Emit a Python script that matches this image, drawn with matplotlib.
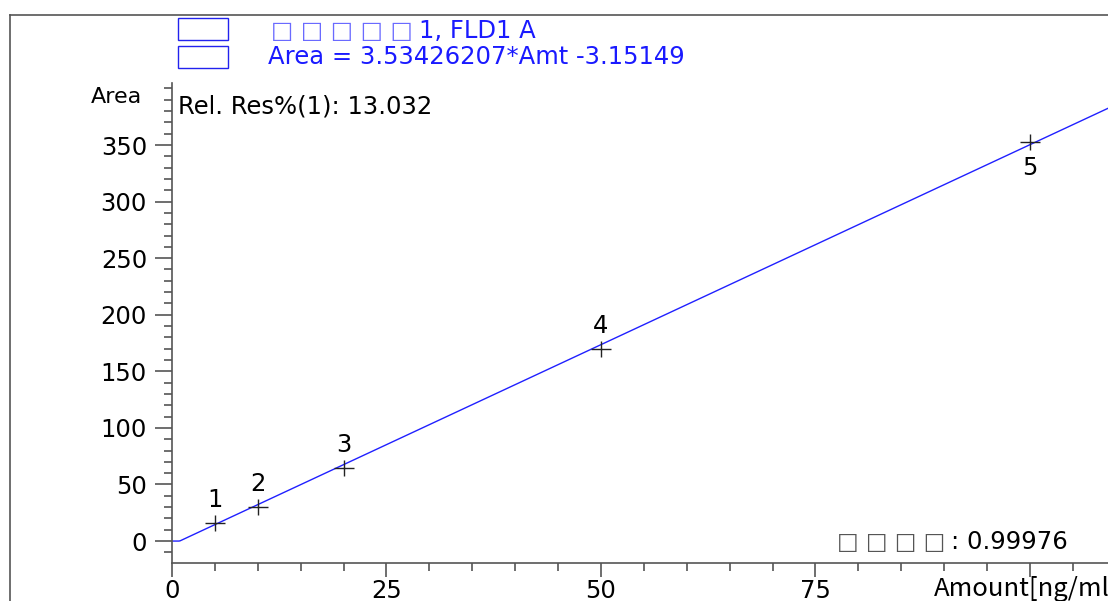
import numpy as np
import matplotlib.pyplot as plt
from matplotlib.lines import Line2D
from matplotlib.patches import Rectangle
from matplotlib.path import Path

# calibration levels and measured peak areas
amounts = [5, 10, 20, 50, 100]
areas = [16.2, 30.4, 64.3, 169.6, 352.5]
level_labels = ["1", "2", "3", "4", "5"]

# linear fit reported by the integrator
SLOPE = 3.53426207
INTERCEPT = -3.15149
REL_RES = "13.032"
CORR = "0.99976"

x_ticks = [0, 25, 50, 75, 100]
x_tick_labels = ["0", "25", "50", "75", ""]
y_ticks = [0, 50, 100, 150, 200, 250, 300, 350]

plt.rcParams["font.family"] = ["DejaVu Sans"]
FS = 17.5

fig = plt.figure(figsize=(11.08, 6.01), dpi=100)
W, H = 1108, 601

def fx(px):
    return px / W

def fy(py):
    return 1 - py / H

ax = fig.add_axes([fx(172), fy(563), fx(W - 172), (563 - 83) / H])
ax.set_xlim(0, 109.1)
ax.set_ylim(-19.4, 404.8)

# fit line, flat at zero where the fit goes negative
x_line = np.linspace(0, 109.1, 800)
y_line = np.maximum(SLOPE * x_line + INTERCEPT, 0)
ax.plot(x_line, y_line, color="#2020ff", lw=1.0)

# slightly wide cross marker
cross = Path([(-1, 0), (1, 0), (0, -0.8), (0, 0.8)],
             [Path.MOVETO, Path.LINETO, Path.MOVETO, Path.LINETO])
ax.plot(amounts, areas, ls="none", marker=cross, ms=14, mew=1.0, color="#222222")
for x, y, lab in zip(amounts, areas, level_labels):
    if lab == "5":
        ax.annotate(lab, (x, y), xytext=(0, -10), textcoords="offset points",
                    ha="center", va="top", fontsize=FS)
    else:
        ax.annotate(lab, (x, y), xytext=(0, 8), textcoords="offset points",
                    ha="center", va="bottom", fontsize=FS)

for side in ("top", "right"):
    ax.spines[side].set_visible(False)
for side in ("left", "bottom"):
    ax.spines[side].set_color("#555555")
    ax.spines[side].set_linewidth(1.2)

ax.set_xticks(x_ticks, x_tick_labels)
ax.set_xticks(np.arange(0, 110, 5), minor=True)
ax.set_yticks(y_ticks)
ax.set_yticks(np.arange(-10, 401, 10), minor=True)
ax.tick_params(which="both", width=1.2, color="#555555", labelsize=FS,
               direction="out")
ax.tick_params(axis="x", which="major", length=10, pad=1.5)
ax.tick_params(axis="x", which="minor", length=5.5)
ax.tick_params(axis="y", which="major", length=12, pad=6)
ax.tick_params(axis="y", which="minor", length=6)

ax.text(0.006, 0.951, f"Rel. Res%(1): {REL_RES}", transform=ax.transAxes,
        fontsize=FS, va="center", ha="left")

# y-axis name and x-axis name
fig.text(fx(91), fy(97), "Area", fontsize=16, va="center", ha="left")
fig.text(fx(934), fy(589), "Amount[ng/ml]", fontsize=18.5, va="center", ha="left",
         family=["Noto Sans CJK JP", "DejaVu Sans"])

# correlation readout
fig.text(fx(837), fy(542), "□ □ □ □", fontsize=16.5, va="center", ha="left",
         color="#555555")
fig.text(fx(951), fy(542), f": {CORR}", fontsize=FS, va="center", ha="left")

# header with legend boxes
fig.text(fx(271), fy(31), "□ □ □ □ □", fontsize=17, va="center", ha="left",
         color="#6a6aff")
fig.text(fx(419), fy(31), "1, FLD1 A", fontsize=FS, va="center", ha="left",
         color="#1a1aff")
fig.text(fx(268), fy(57), f"Area = {SLOPE:.8f}*Amt {INTERCEPT:.5f}", fontsize=FS,
         va="center", ha="left", color="#1a1aff")
for top in (18, 46):
    fig.patches.append(Rectangle((fx(178), fy(top + 22)), fx(50), 22 / H,
                                 transform=fig.transFigure, fill=False,
                                 edgecolor="#2222ee", lw=1.0))

# outer frame
fig.lines.append(Line2D([fx(10), 1], [fy(15), fy(15)], transform=fig.transFigure,
                        color="#555555", lw=1.2))
fig.lines.append(Line2D([fx(10), fx(10)], [fy(15), 0], transform=fig.transFigure,
                        color="#555555", lw=1.2))

fig.savefig("out.png", dpi=100)
